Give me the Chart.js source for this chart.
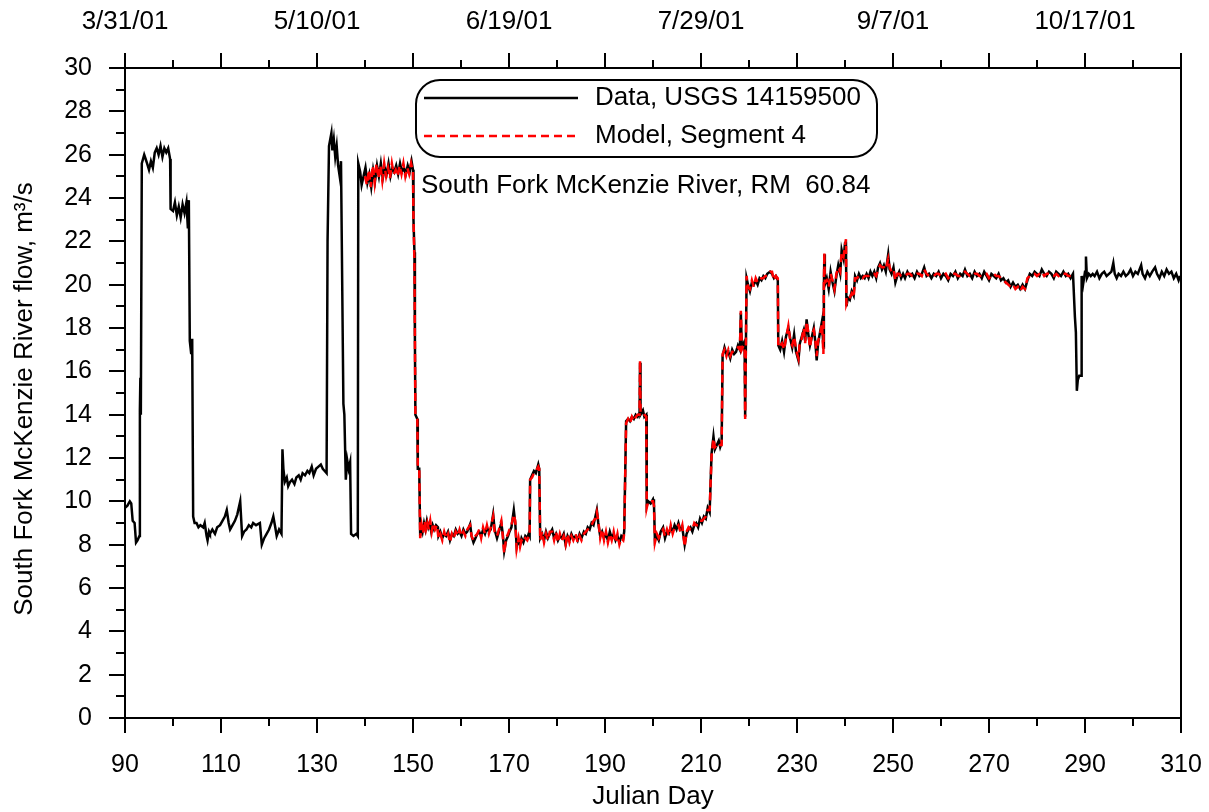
<!DOCTYPE html>
<html>
<head>
<meta charset="utf-8">
<title>South Fork McKenzie River flow</title>
<script src="https://cdn.jsdelivr.net/npm/chart.js@4.4.1/dist/chart.umd.min.js"></script>
<style>
  html, body { margin: 0; padding: 0; background: #fff; }
  #flowChart { display: block; }
</style>
</head>
<body>
<canvas id="flowChart" width="1209" height="812"></canvas>
<script>
/* flow chart — USGS 14159500 vs model segment 4 */

// observed flow, m3/s
const dataDays = [
  90.0, 90.5, 91.0, 91.3, 91.6, 92.0, 92.3, 92.6, 93.0, 93.1, 93.2, 93.3, 93.5, 94.0, 94.3, 94.6, 95.0, 95.4, 95.8,
  96.2, 96.6, 97.0, 97.4, 97.8, 98.2, 98.6, 99.0, 99.4, 99.5, 100.0, 100.4, 100.8, 101.2, 101.6, 102.0, 102.4, 102.8,
  103.1, 103.3, 103.5, 103.8, 104.0, 104.2, 104.5, 104.9, 105.3, 105.7, 106.3, 106.6, 107.0, 107.2, 107.5, 107.7,
  108.2, 108.75, 109.2, 109.8, 110.3, 110.8, 111.2, 111.6, 111.9, 112.4, 112.9, 113.4, 114.0, 114.4, 114.8, 115.3,
  115.8, 116.3, 116.7, 117.3, 118.1, 118.5, 119.0, 119.5, 120.0, 120.5, 120.9, 121.3, 121.6, 122.1, 122.6, 122.8,
  123.0, 123.3, 123.7, 124.0, 124.4, 124.8, 125.3, 125.7, 126.2, 126.6, 127.0, 127.5, 128.0, 128.4, 128.9, 129.3,
  129.8, 130.3, 130.8, 131.2, 131.6, 132.0, 132.2, 132.5, 133.0, 133.2, 133.5, 133.8, 134.1, 134.4, 134.8, 135.0,
  135.5, 135.7, 136.0, 136.3, 136.6, 136.9, 137.1, 137.6, 138.2, 138.5, 138.6, 139.0, 139.3, 139.7, 140.1, 140.5,
  140.9, 141.3, 141.7, 142.1, 142.5, 142.9, 143.3, 143.7, 144.1, 144.5, 144.9, 145.3, 145.7, 146.1, 146.5, 146.9,
  147.3, 147.7, 148.1, 148.5, 148.9, 149.3, 149.7, 150.0, 150.1, 150.3, 150.4, 150.5, 150.9, 151.0, 151.3, 151.5,
  151.7, 152.0, 152.3, 152.6, 152.9, 153.2, 153.5, 153.8, 154.1, 154.4, 154.8, 155.2, 155.3, 155.7, 156.1, 156.5,
  156.9, 157.3, 157.7, 158.1, 158.5, 158.9, 159.3, 159.7, 160.1, 160.5, 160.9, 161.3, 161.9, 162.2, 162.6, 163.0,
  163.4, 163.8, 164.2, 164.6, 165.0, 165.4, 165.8, 166.2, 166.7, 167.0, 167.5, 167.9, 168.4, 168.7, 169.0, 169.4,
  169.8, 170.1, 170.5, 171.0, 171.3, 171.6, 172.0, 172.3, 172.6, 173.0, 173.4, 173.8, 174.1, 174.3, 174.4, 174.8,
  175.2, 175.6, 176.1, 176.3, 176.5, 176.9, 177.3, 177.7, 178.1, 178.5, 179.0, 179.4, 179.8, 180.2, 180.6, 181.0,
  181.4, 181.8, 182.2, 182.6, 183.0, 183.4, 183.9, 184.3, 184.7, 185.1, 185.6, 186.0, 186.4, 186.8, 187.2, 187.6,
  188.0, 188.3, 188.6, 189.0, 189.4, 189.8, 190.2, 190.6, 191.0, 191.4, 191.8, 192.2, 192.6, 193.0, 193.4, 193.8,
  194.0, 194.4, 194.8, 195.2, 195.6, 196.0, 196.4, 196.8, 197.2, 197.3, 197.4, 197.9, 198.2, 198.6, 198.7, 199.0,
  199.5, 200.0, 200.2, 200.4, 200.8, 201.2, 201.6, 202.1, 202.5, 202.9, 203.3, 203.7, 204.1, 204.5, 204.9, 205.3,
  205.7, 206.1, 206.6, 207.0, 207.4, 207.8, 208.2, 208.6, 209.0, 209.4, 209.8, 210.2, 210.6, 211.0, 211.4, 211.8,
  212.2, 212.6, 212.9, 213.3, 213.7, 214.0, 214.3, 214.5, 214.9, 215.3, 215.7, 216.1, 216.5, 216.9, 217.3, 217.7,
  218.1, 218.3, 218.5, 218.9, 219.1, 219.2, 219.5, 219.8, 220.2, 220.6, 221.0, 221.4, 221.8, 222.2, 222.6, 223.0,
  223.4, 223.8, 224.4, 224.8, 225.2, 225.6, 226.0, 226.1, 226.5, 226.9, 227.3, 227.7, 228.2, 228.6, 229.0, 229.4,
  229.8, 230.3, 230.6, 231.0, 231.4, 231.7, 232.0, 232.3, 232.7, 233.1, 233.5, 233.8, 234.1, 234.4, 234.8, 235.2,
  235.5, 235.6, 235.7, 235.8, 236.2, 236.6, 237.0, 237.4, 237.8, 238.2, 238.6, 239.0, 239.3, 239.7, 240.0, 240.2,
  240.3, 240.6, 241.0, 241.4, 241.8, 242.1, 242.5, 242.9, 243.3, 243.7, 244.1, 244.5, 244.9, 245.3, 245.7, 246.1,
  246.5, 246.9, 247.3, 247.7, 248.1, 248.5, 249.0, 249.3, 249.7, 250.1, 250.5, 250.9, 251.3, 251.7, 252.1, 252.5,
  253.0, 253.5, 254.0, 254.5, 255.0, 255.5, 256.0, 256.5, 257.0, 257.5, 258.0, 258.5, 259.0, 259.5, 260.0, 260.5,
  261.0, 261.5, 262.0, 262.5, 263.0, 263.5, 264.0, 264.5, 265.0, 265.5, 266.0, 266.5, 267.0, 267.5, 268.0, 268.5,
  269.0, 269.5, 270.0, 270.5, 271.0, 271.5, 272.0, 272.5, 273.0, 273.5, 274.0, 274.5, 275.0, 275.5, 276.0, 276.5,
  277.0, 277.5, 278.0, 278.5, 279.0, 279.5, 280.0, 280.5, 281.0, 281.5, 282.0, 282.5, 283.0, 283.5, 284.0, 284.5,
  285.0, 285.5, 286.0, 286.5, 287.0, 287.5, 287.9, 288.1, 288.3, 288.5, 288.8, 289.2, 289.3, 289.6, 290.0, 290.2,
  290.4, 290.8, 291.2, 291.6, 292.0, 292.5, 293.0, 293.5, 294.0, 294.5, 295.0, 295.5, 295.9, 296.2, 296.6, 297.0,
  297.5, 298.0, 298.5, 299.0, 299.5, 300.0, 300.5, 301.0, 301.7, 302.0, 302.5, 303.0, 303.5, 304.0, 304.6, 305.0,
  305.5, 306.0, 306.5, 307.0, 307.5, 308.0, 308.5, 309.0, 309.5, 309.8
];
const dataFlow = [
  9.7, 9.8, 10.0, 9.9, 9.1, 9.0, 8.1, 8.2, 8.4, 14.2, 15.7, 14.0, 25.6, 26.0, 25.8, 25.6, 25.3, 25.7, 25.4,
  26.1, 26.3, 26.0, 26.4, 25.9, 26.3, 26.1, 26.3, 25.8, 23.5, 23.4, 23.8, 23.2, 23.6, 23.1, 23.7, 23.3, 23.8,
  22.6, 23.9, 17.4, 16.8, 17.5, 9.3, 9.0, 9.0, 8.8, 8.9, 8.8, 9.0, 8.4, 8.2, 8.6, 8.5,
  8.7, 8.5, 8.8, 8.9, 9.1, 9.3, 9.6, 9.0, 8.7, 8.9, 9.1, 9.4, 10.0, 8.4, 8.6, 8.7,
  8.9, 8.8, 9.0, 8.9, 9.0, 8.0, 8.3, 8.5, 8.7, 9.0, 9.3, 8.8, 8.4, 8.7, 8.5, 12.4,
  11.5, 10.9, 11.1, 10.7, 10.9, 11.0, 10.8, 11.1, 11.2, 11.0, 11.3, 11.2, 11.4, 11.3, 11.6, 11.2,
  11.5, 11.6, 11.7, 11.5, 11.4, 11.3, 22.0, 26.4, 27.0, 26.2, 26.7, 25.9, 26.4, 25.5, 24.9, 25.7,
  14.5, 14.0, 11.0, 11.9, 11.5, 11.8, 8.5, 8.4, 8.5, 8.4, 25.6, 25.2, 24.6, 25.0, 25.4, 24.7,
  25.1, 24.5, 25.3, 24.8, 25.5, 25.0, 25.6, 24.9, 25.4, 25.1, 25.6, 25.0, 25.4, 25.2, 25.5, 25.1,
  25.6, 25.2, 25.4, 25.1, 25.5, 25.2, 25.7, 25.3, 23.0, 21.5, 17.4, 14.0, 13.8, 11.5, 11.5, 8.4,
  8.9, 8.6, 9.0, 8.7, 9.1, 8.8, 9.0, 8.6, 8.9, 8.7, 8.9, 8.8, 8.4, 8.6, 8.3, 8.5,
  8.4, 8.6, 8.2, 8.5, 8.4, 8.7, 8.5, 8.6, 8.4, 8.7, 8.5, 8.6, 8.95, 8.4, 8.1, 8.3,
  8.5, 8.6, 8.4, 8.7, 8.5, 8.8, 8.6, 8.7, 9.4, 8.7, 8.3, 8.6, 9.0, 8.5, 7.7, 8.2,
  8.4, 8.6, 8.8, 9.6, 9.0, 7.9, 8.2, 8.0, 8.3, 8.1, 8.4, 8.3, 8.5, 8.4, 11.0, 11.2,
  11.4, 11.3, 11.7, 11.5, 8.3, 8.5, 8.2, 8.6, 8.3, 8.5, 8.7, 8.3, 8.5, 8.2, 8.4, 8.3,
  8.5, 8.0, 8.4, 8.2, 8.5, 8.3, 8.4, 8.2, 8.5, 8.3, 8.6, 8.5, 8.8, 8.7, 9.0, 8.9,
  9.3, 9.6, 9.0, 8.4, 8.6, 8.3, 8.5, 8.2, 8.6, 8.3, 8.5, 8.2, 8.4, 8.1, 8.4, 8.3,
  8.6, 13.7, 13.8, 13.7, 13.9, 13.8, 14.0, 13.9, 14.1, 16.4, 14.0, 14.2, 13.9, 14.0, 9.8, 10.0,
  9.9, 10.1, 9.9, 8.2, 8.4, 8.2, 8.6, 8.8, 8.3, 8.6, 8.5, 8.8, 8.6, 8.9, 8.7, 9.0,
  8.7, 8.8, 8.0, 8.5, 8.7, 8.8, 8.6, 8.9, 9.0, 8.8, 9.2, 9.0, 9.3, 9.2, 9.7, 9.5,
  12.2, 13.0, 12.4, 12.6, 12.8, 12.5, 12.7, 16.7, 17.1, 16.8, 16.9, 16.6, 17.0, 16.8, 16.9, 17.2,
  17.0, 18.7, 17.1, 17.3, 16.9, 13.9, 20.3, 20.0, 19.7, 20.1, 20.0, 20.2, 20.0, 20.3, 20.2, 20.4,
  20.3, 20.5, 20.6, 20.5, 20.3, 20.4, 20.2, 17.2, 17.0, 17.4, 16.9, 17.6, 18.0, 17.5, 17.1, 17.7,
  16.9, 16.5, 17.3, 17.6, 17.9, 17.4, 18.4, 17.8, 17.2, 17.6, 18.0, 17.4, 16.5, 17.3, 17.8, 18.3,
  17.1, 19.9, 21.4, 20.0, 20.3, 19.8, 20.6, 20.1, 19.7, 20.4, 20.9, 20.5, 21.6, 21.2, 21.9, 22.0,
  19.0, 19.4, 19.3, 19.7, 19.5, 20.4, 20.2, 20.5, 20.3, 20.4, 20.3, 20.5, 20.3, 20.6, 20.4, 20.6,
  20.3, 20.8, 21.0, 20.7, 20.9, 20.6, 21.4, 20.7, 20.5, 20.8, 20.1, 20.4, 20.6, 20.3, 20.5, 20.3,
  20.6, 20.4, 20.5, 20.3, 20.6, 20.4, 20.5, 20.8, 20.4, 20.5, 20.3, 20.5, 20.4, 20.6, 20.3, 20.5,
  20.4, 20.2, 20.5, 20.4, 20.6, 20.3, 20.5, 20.4, 20.7, 20.4, 20.5, 20.3, 20.6, 20.4, 20.5, 20.3,
  20.6, 20.4, 20.2, 20.5, 20.4, 20.3, 20.5, 20.2, 20.3, 20.1, 20.2, 19.9, 20.1, 19.9, 20.0, 19.8,
  20.0, 19.8, 20.2, 20.5, 20.4, 20.6, 20.5, 20.4, 20.7, 20.5, 20.4, 20.6, 20.5, 20.3, 20.6, 20.5,
  20.4, 20.6, 20.4, 20.5, 20.3, 20.5, 18.5, 17.8, 15.1, 15.6, 15.8, 15.8, 20.4, 20.0, 20.6, 21.3,
  20.3, 20.5, 20.4, 20.5, 20.4, 20.6, 20.3, 20.5, 20.6, 20.4, 20.5, 20.6, 21.0, 20.5, 20.3, 20.5,
  20.4, 20.6, 20.4, 20.5, 20.7, 20.4, 20.6, 20.5, 20.9, 20.5, 20.3, 20.6, 20.4, 20.6, 20.8, 20.5,
  20.3, 20.6, 20.4, 20.7, 20.5, 20.6, 20.3, 20.5, 20.2, 20.4
];

// modelled flow, segment 4
const modelDays = [
  140.0, 140.4, 140.8, 141.2, 141.6, 142.0, 142.4, 142.8, 143.2, 143.6, 144.0, 144.4, 144.8, 145.2, 145.6, 146.0,
  146.4, 146.8, 147.2, 147.6, 148.0, 148.4, 148.8, 149.2, 149.6, 150.0, 150.1, 150.3, 150.4, 150.5, 150.9, 151.0,
  151.3, 151.5, 151.8, 152.1, 152.4, 152.7, 153.0, 153.3, 153.6, 153.9, 154.2, 154.6, 155.0, 155.3, 155.7, 156.1,
  156.5, 156.9, 157.3, 157.7, 158.1, 158.5, 158.9, 159.3, 159.7, 160.1, 160.5, 160.9, 161.3, 161.9, 162.2, 162.6,
  163.0, 163.4, 163.8, 164.2, 164.6, 165.0, 165.4, 165.8, 166.2, 166.7, 167.0, 167.5, 167.9, 168.4, 168.7, 169.0,
  169.4, 169.8, 170.1, 170.5, 171.0, 171.3, 171.6, 172.0, 172.3, 172.6, 173.0, 173.4, 173.8, 174.1, 174.3, 174.4,
  174.8, 175.2, 175.6, 176.1, 176.3, 176.5, 176.9, 177.3, 177.7, 178.1, 178.5, 179.0, 179.4, 179.8, 180.2, 180.6,
  181.0, 181.4, 181.8, 182.2, 182.6, 183.0, 183.4, 183.9, 184.3, 184.7, 185.1, 185.6, 186.0, 186.4, 186.8, 187.2,
  187.6, 188.0, 188.3, 188.6, 189.0, 189.4, 189.8, 190.2, 190.6, 191.0, 191.4, 191.8, 192.2, 192.6, 193.0, 193.4,
  193.8, 194.0, 194.4, 194.8, 195.2, 195.6, 196.0, 196.4, 196.8, 197.2, 197.3, 197.4, 197.9, 198.2, 198.6, 198.7,
  199.0, 199.5, 200.0, 200.2, 200.4, 200.8, 201.2, 201.6, 202.1, 202.5, 202.9, 203.3, 203.7, 204.1, 204.5, 204.9,
  205.3, 205.7, 206.1, 206.6, 207.0, 207.4, 207.8, 208.2, 208.6, 209.0, 209.4, 209.8, 210.2, 210.6, 211.0, 211.4,
  211.8, 212.2, 212.6, 212.9, 213.3, 213.7, 214.0, 214.3, 214.5, 214.9, 215.3, 215.7, 216.1, 216.5, 216.9, 217.3,
  217.7, 218.1, 218.3, 218.5, 218.9, 219.1, 219.2, 219.5, 219.8, 220.2, 220.6, 221.0, 221.4, 221.8, 222.2, 222.6,
  223.0, 223.4, 223.8, 224.4, 224.8, 225.2, 225.6, 226.0, 226.1, 226.5, 226.9, 227.3, 227.7, 228.2, 228.6, 229.0,
  229.4, 229.8, 230.3, 230.6, 231.0, 231.4, 231.7, 232.0, 232.3, 232.7, 233.1, 233.5, 233.8, 234.1, 234.4, 234.8,
  235.2, 235.5, 235.6, 235.7, 235.8, 236.2, 236.6, 237.0, 237.4, 237.8, 238.2, 238.6, 239.0, 239.3, 239.7, 240.0,
  240.2, 240.3, 240.6, 241.0, 241.4, 241.8, 242.1, 242.5, 242.9, 243.3, 243.7, 244.1, 244.5, 244.9, 245.3, 245.7,
  246.1, 246.5, 246.9, 247.3, 247.7, 248.1, 248.5, 249.0, 249.3, 249.7, 250.1, 250.5, 250.9, 251.3, 251.7, 252.1,
  252.5, 253.0, 253.5, 254.0, 254.5, 255.0, 255.5, 256.0, 256.5, 257.0, 257.5, 258.0, 258.5, 259.0, 259.5, 260.0,
  260.5, 261.0, 261.5, 262.0, 262.5, 263.0, 263.5, 264.0, 264.5, 265.0, 265.5, 266.0, 266.5, 267.0, 267.5, 268.0,
  268.5, 269.0, 269.5, 270.0, 270.5, 271.0, 271.5, 272.0, 272.5, 273.0, 273.5, 274.0, 274.5, 275.0, 275.5, 276.0,
  276.5, 277.0, 277.5, 278.0, 278.5, 279.0, 279.5, 280.0, 280.5, 281.0, 281.5, 282.0, 282.5, 283.0, 283.5, 284.0,
  284.5, 285.0, 285.5, 286.0, 286.5, 287.0, 287.6
];
const modelFlow = [
  25.0, 24.6, 25.3, 24.5, 25.5, 24.7, 25.6, 24.9, 25.5, 24.8, 25.6, 25.0, 25.4, 24.9, 25.6, 25.1,
  25.3, 25.0, 25.5, 25.1, 25.6, 25.0, 25.4, 25.1, 25.6, 25.2, 23.0, 21.0, 17.4, 14.0, 13.8, 11.6,
  11.5, 8.3, 8.9, 8.5, 9.1, 8.7, 9.0, 8.7, 9.1, 8.6, 9.0, 8.7, 8.9, 8.3, 8.5, 8.2,
  8.6, 8.3, 8.5, 8.1, 8.5, 8.3, 8.6, 8.4, 8.7, 8.4, 8.6, 8.4, 8.7, 8.9, 8.4, 8.2,
  8.4, 8.5, 8.7, 8.3, 8.8, 8.5, 8.9, 8.5, 8.8, 9.3, 8.6, 8.4, 8.7, 9.1, 8.4, 7.6,
  8.3, 8.5, 8.7, 8.9, 9.4, 9.1, 7.8, 8.3, 7.9, 8.2, 8.1, 8.3, 8.2, 8.4, 8.4, 11.0,
  11.1, 11.3, 11.4, 11.6, 11.5, 8.2, 8.6, 8.1, 8.5, 8.2, 8.6, 8.6, 8.2, 8.6, 8.1, 8.5,
  8.2, 8.4, 8.0, 8.5, 8.1, 8.4, 8.2, 8.5, 8.1, 8.4, 8.2, 8.5, 8.6, 8.7, 8.8, 8.9,
  9.1, 9.2, 9.5, 9.1, 8.3, 8.7, 8.2, 8.6, 8.1, 8.5, 8.2, 8.6, 8.1, 8.5, 8.0, 8.3,
  8.2, 8.5, 13.6, 13.8, 13.6, 13.9, 13.7, 13.9, 14.0, 14.0, 16.5, 14.1, 14.1, 14.0, 13.9, 9.7,
  10.0, 10.0, 10.0, 9.8, 8.1, 8.5, 8.3, 8.5, 8.7, 8.4, 8.7, 8.4, 8.9, 8.5, 8.8, 8.8,
  8.9, 8.6, 8.9, 7.9, 8.6, 8.8, 8.7, 8.7, 9.0, 8.9, 8.9, 9.1, 9.1, 9.2, 9.3, 9.6,
  9.6, 12.1, 12.9, 12.5, 12.6, 12.7, 12.6, 12.6, 16.8, 17.0, 16.7, 17.0, 16.7, 16.9, 16.9, 17.0,
  17.1, 17.0, 18.8, 17.0, 17.2, 17.0, 13.8, 20.4, 19.9, 19.8, 20.2, 19.9, 20.3, 20.1, 20.2, 20.3,
  20.3, 20.4, 20.4, 20.6, 20.6, 20.2, 20.4, 20.3, 17.1, 17.2, 17.3, 17.0, 17.5, 18.1, 17.4, 17.2,
  17.6, 17.0, 16.6, 17.4, 17.5, 18.0, 17.3, 18.3, 17.9, 17.1, 17.7, 17.9, 17.5, 16.7, 17.4, 17.7,
  18.2, 16.8, 20.0, 21.5, 20.1, 20.2, 19.9, 20.5, 20.2, 19.8, 20.5, 20.8, 20.6, 21.5, 21.3, 21.8,
  22.1, 19.1, 19.3, 19.4, 19.6, 19.4, 20.3, 20.3, 20.4, 20.4, 20.3, 20.4, 20.4, 20.4, 20.5, 20.5,
  20.5, 20.4, 20.7, 20.9, 20.8, 20.8, 20.7, 21.2, 20.8, 20.6, 20.7, 20.2, 20.5, 20.5, 20.4, 20.4,
  20.4, 20.5, 20.5, 20.4, 20.4, 20.5, 20.5, 20.4, 20.7, 20.5, 20.4, 20.4, 20.4, 20.5, 20.5, 20.4,
  20.4, 20.5, 20.3, 20.4, 20.5, 20.5, 20.4, 20.4, 20.5, 20.6, 20.5, 20.4, 20.4, 20.5, 20.5, 20.4,
  20.4, 20.5, 20.5, 20.3, 20.4, 20.5, 20.4, 20.4, 20.3, 20.2, 20.1, 20.0, 19.9, 20.0, 19.8, 19.9,
  19.7, 19.9, 19.8, 20.3, 20.4, 20.5, 20.5, 20.4, 20.5, 20.6, 20.4, 20.5, 20.5, 20.4, 20.4, 20.5,
  20.4, 20.5, 20.5, 20.5, 20.4, 20.4, 20.4
];

// axis ticks
const dayTicks      = [90, 110, 130, 150, 170, 190, 210, 230, 250, 270, 290, 310];
const dateTickDays  = [90, 130, 170, 210, 250, 290];
const dateTickLabels = ["3/31/01", "5/10/01", "6/19/01", "7/29/01", "9/7/01", "10/17/01"];

const FONT = "'Liberation Sans', Arial, sans-serif";

function toPoints(xs, ys) {
  return xs.map((x, i) => ({ x, y: ys[i] }));
}

// no extra room for overhanging end labels: the plot box is fixed
function fixBox(s) {
  s.paddingLeft = 0;
  s.paddingRight = 0;
  s.paddingTop = 0;
  s.paddingBottom = 0;
}

// frame, major/minor ticks, titles, legend box and label
const decorPlugin = {
  id: "decor",
  afterDraw(chart) {
    const { ctx, chartArea: a, scales } = chart;
    const xs = scales.x, ys = scales.y;
    ctx.save();
    ctx.strokeStyle = "#000";
    ctx.lineWidth = 2;
    ctx.strokeRect(a.left, a.top, a.right - a.left, a.bottom - a.top);

    ctx.beginPath();
    for (let d = 90; d <= 310; d += 10) {
      const px = Math.round(xs.getPixelForValue(d));
      const len = (d - 90) % 20 === 0 ? 15 : 8;
      ctx.moveTo(px, a.bottom); ctx.lineTo(px, a.bottom + len);
      ctx.moveTo(px, a.top);    ctx.lineTo(px, a.top - len);
    }
    for (let v = 0; v <= 30; v += 1) {
      const py = Math.round(ys.getPixelForValue(v));
      const len = v % 2 === 0 ? 16 : 9;
      ctx.moveTo(a.left, py); ctx.lineTo(a.left - len, py);
    }
    ctx.stroke();

    ctx.fillStyle = "#000";
    ctx.font = "26px " + FONT;
    ctx.textAlign = "center";
    ctx.textBaseline = "middle";
    ctx.fillText("Julian Day", (a.left + a.right) / 2, 797);

    ctx.save();
    ctx.translate(25, 399);
    ctx.rotate(-Math.PI / 2);
    ctx.fillText("South Fork McKenzie River flow, m³/s", 0, 0);
    ctx.restore();

    // legend
    const bx = 416, by = 80, bw = 461, bh = 77, r = 24;
    ctx.beginPath();
    ctx.roundRect(bx, by, bw, bh, r);
    ctx.fillStyle = "#fff";
    ctx.fill();
    ctx.lineWidth = 2;
    ctx.stroke();

    ctx.lineWidth = 2.5;
    ctx.beginPath();
    ctx.moveTo(424, 98); ctx.lineTo(578, 98);
    ctx.strokeStyle = "#000";
    ctx.stroke();
    ctx.beginPath();
    ctx.setLineDash([8, 5]);
    ctx.moveTo(424, 136); ctx.lineTo(578, 136);
    ctx.strokeStyle = "#ff0000";
    ctx.stroke();
    ctx.setLineDash([]);

    ctx.fillStyle = "#000";
    ctx.textAlign = "left";
    ctx.fillText("Data, USGS 14159500", 595, 98);
    ctx.fillText("Model, Segment 4", 595, 136);
    ctx.fillText("South Fork McKenzie River, RM  60.84", 421, 186);
    ctx.restore();
  },
};

new Chart(document.getElementById("flowChart"), {
  type: "line",
  data: {
    datasets: [
      {
        label: "Model, Segment 4",
        data: toPoints(modelDays, modelFlow),
        borderColor: "#ff0000",
        borderWidth: 2.5,
        borderDash: [8, 5],
        pointRadius: 0,
        tension: 0,
        order: 0,
      },
      {
        label: "Data, USGS 14159500",
        data: toPoints(dataDays, dataFlow),
        borderColor: "#000000",
        borderWidth: 2.5,
        pointRadius: 0,
        tension: 0,
        order: 1,
      },
    ],
  },
  options: {
    responsive: false,
    animation: false,
    devicePixelRatio: 1,
    layout: { padding: { left: 0, right: 28, top: 0, bottom: 0 } },
    plugins: { legend: { display: false }, tooltip: { enabled: false } },
    scales: {
      x: {
        type: "linear",
        position: "bottom",
        min: 90, max: 310,
        afterBuildTicks: s => { s.ticks = dayTicks.map(v => ({ value: v })); },
        afterFit: s => { s.height = 94; fixBox(s); },
        grid: { display: false, drawTicks: false },
        border: { display: false },
        ticks: { color: "#000", padding: 32, maxRotation: 0, font: { family: FONT, size: 25 } },
      },
      x2: {
        type: "linear",
        position: "top",
        min: 90, max: 310,
        afterBuildTicks: s => { s.ticks = dateTickDays.map(v => ({ value: v })); },
        afterFit: s => { s.height = 68; fixBox(s); },
        grid: { display: false, drawTicks: false },
        border: { display: false },
        ticks: {
          color: "#000", padding: 31, maxRotation: 0, autoSkip: false,
          font: { family: FONT, size: 26 },
          callback: (v, i) => dateTickLabels[i],
        },
      },
      y: {
        type: "linear",
        position: "left",
        min: 0, max: 30,
        afterFit: s => { s.width = 125; fixBox(s); },
        grid: { display: false, drawTicks: false },
        border: { display: false },
        ticks: { color: "#000", padding: 33, stepSize: 2, font: { family: FONT, size: 25 } },
      },
    },
  },
  plugins: [decorPlugin],
});
</script>
</body>
</html>
